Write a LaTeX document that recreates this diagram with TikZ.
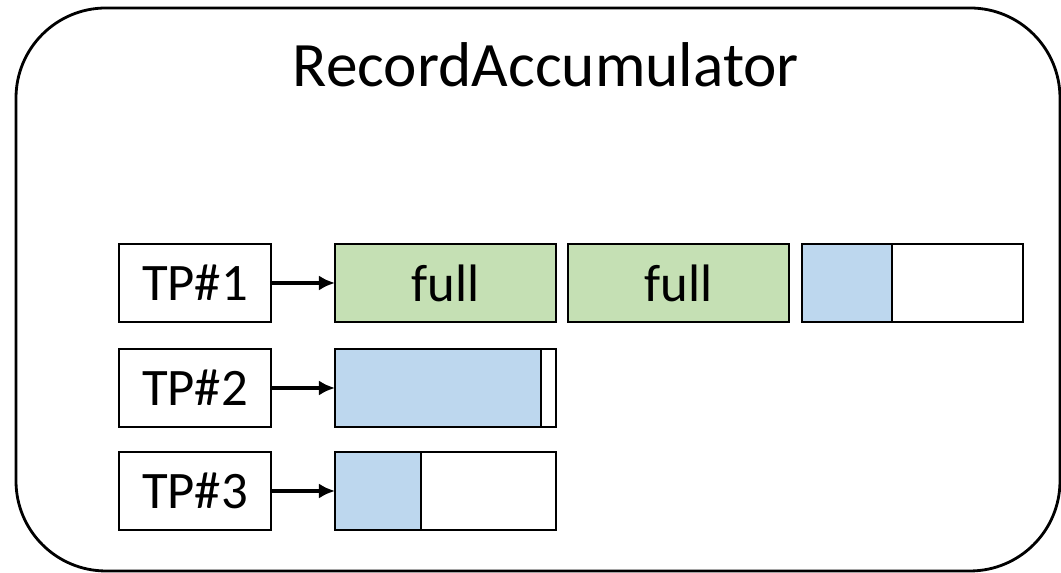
\documentclass[tikz,border=0pt]{standalone}
\usepackage{fontspec}
\setmainfont{Carlito}
\usetikzlibrary{positioning,arrows.meta}
\definecolor{fullgreen}{HTML}{C5E0B4}
\definecolor{usedblue}{HTML}{BDD7EE}

\begin{document}
\begin{tikzpicture}[
    line width=0.8pt,
    tpbox/.style={draw, minimum width=1.52cm, minimum height=0.78cm, inner sep=0pt, outer sep=0pt, font=\fontsize{15}{18}\selectfont},
    batch/.style={draw, minimum width=2.21cm, minimum height=0.78cm, inner sep=0pt, outer sep=0pt, font=\fontsize{15}{18}\selectfont},
    used/.style={draw, fill=usedblue, minimum height=0.78cm, inner sep=0pt, outer sep=0pt, anchor=west},
    link/.style={line width=1.1pt, -{Latex[length=0.16cm,width=0.15cm]}}
]
    \useasboundingbox (0,0) rectangle (10.61,-5.73);

    % 外框与标题
    \draw[rounded corners=0.9cm] (0.16,-0.08) rectangle (10.60,-5.71);
    \node (title) at (5.46,-0.65) {\fontsize{18}{22}\selectfont RecordAccumulator};

    % 分区
    \node[tpbox] (tp1) at (1.95,-2.83) {TP\#1};
    \node[tpbox] (tp2) at (1.95,-3.88) {TP\#2};
    \node[tpbox] (tp3) at (1.95,-4.91) {TP\#3};

    % 第一行批次
    \node[batch, fill=fullgreen, right=0.64cm of tp1] (b11) {full};
    \node[batch, fill=fullgreen, right=0.12cm of b11] (b12) {full};
    \node[batch, right=0.13cm of b12] (b13) {};
    \node[used, minimum width=0.90cm] (u13) at (b13.west) {};

    % 第二行、第三行批次
    \node[batch, right=0.64cm of tp2] (b21) {};
    \node[used, minimum width=2.06cm] (u21) at (b21.west) {};
    \node[batch, right=0.64cm of tp3] (b31) {};
    \node[used, minimum width=0.86cm] (u31) at (b31.west) {};

    % 箭头
    \draw[link] (tp1) -- (b11);
    \draw[link] (tp2) -- (b21);
    \draw[link] (tp3) -- (b31);
\end{tikzpicture}
\end{document}
